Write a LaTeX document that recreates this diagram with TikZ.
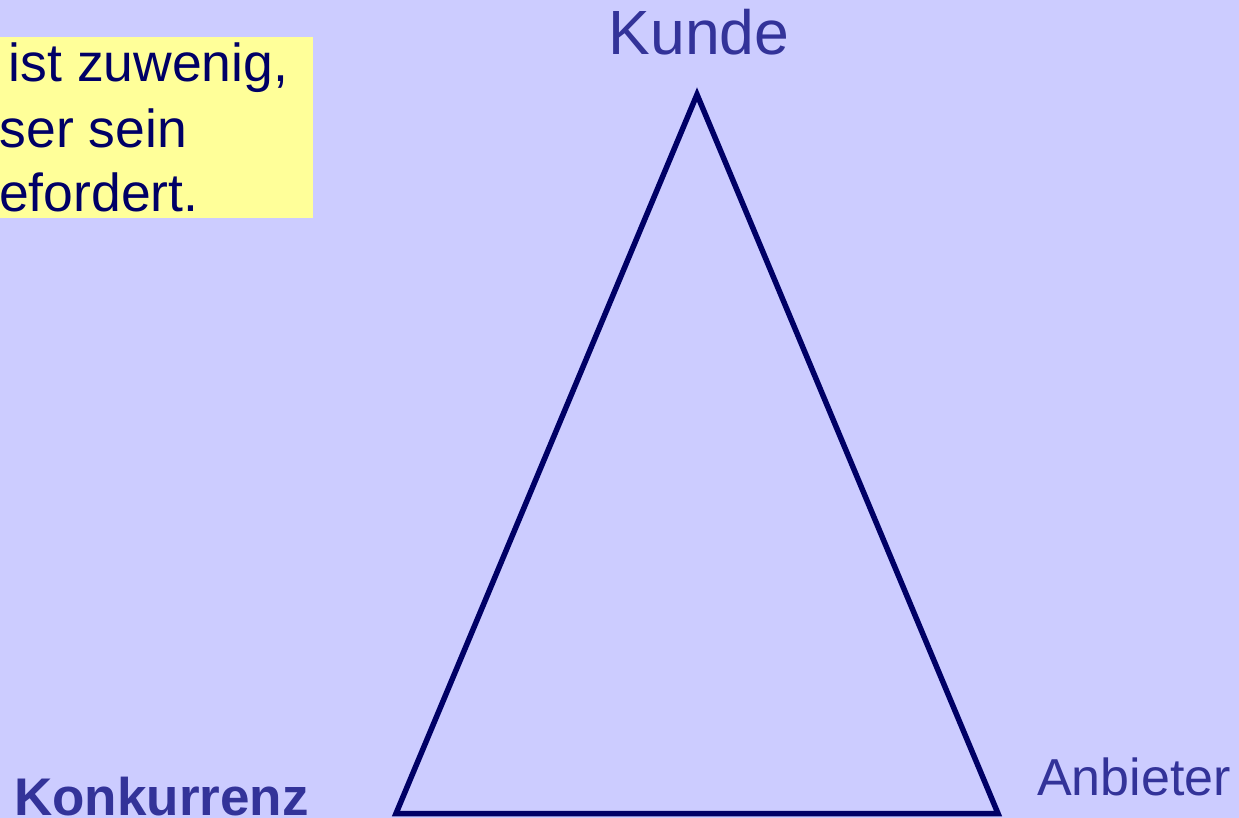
\documentclass[tikz,border=0pt]{standalone}
\usepackage{fontspec}
\setmainfont{Liberation Sans}
\usepackage{xcolor}
\usetikzlibrary{positioning}
\definecolor{qdBack}{RGB}{204,204,255}
\definecolor{qdLabel}{RGB}{51,51,153}
\definecolor{qdNavy}{RGB}{0,0,102}
\definecolor{qdNote}{RGB}{255,255,153}
\tikzset{
  qd/corner/.style={text=qdLabel, inner sep=0pt, anchor=base,
                    font=\fontsize{52}{62}\selectfont},
  qd/edge/.style={draw=qdNavy, line width=5.5pt, line join=miter},
  qd/note/.style={text=qdNavy, inner sep=0pt, anchor=base west,
                  font=\fontsize{53.5}{65}\selectfont},
}

\begin{document}
\begin{tikzpicture}[x=1pt, y=-1pt]

  % ---------------- background ----------------
  \fill[qdBack] (0,0) rectangle (1239,818);
  \useasboundingbox (0,0) rectangle (1239,818);

  % ---------------- triangle ----------------
  \coordinate (top)   at (697,94.5);
  \coordinate (left)  at (396,813.5);
  \coordinate (right) at (998,813.5);
  \draw[qd/edge] (left) -- (top) -- (right) -- cycle;

  % ---------------- corner labels ----------------
  \node[qd/corner, font=\fontsize{62.5}{74}\selectfont] (kunde) at (699,55) {Kunde};
  \node[qd/corner] (anbieter) at (1134,795) {Anbieter};
  \node[qd/corner, font=\fontsize{53}{64}\selectfont\bfseries] (konkurrenz)
    at (161.5,815) {Konkurrenz};

  % ---------------- note (cut off at the left) ----------------
  \fill[qdNote] (0,37) rectangle (313,218);
  \node[qd/note] (noteA) at (8.5,82) {ist zuwenig,};
  \node[qd/note] (noteB) at (-0.5,148) {ser sein};
  \node[qd/note] (noteC) at (-1,212) {efordert.};

\end{tikzpicture}
\end{document}
